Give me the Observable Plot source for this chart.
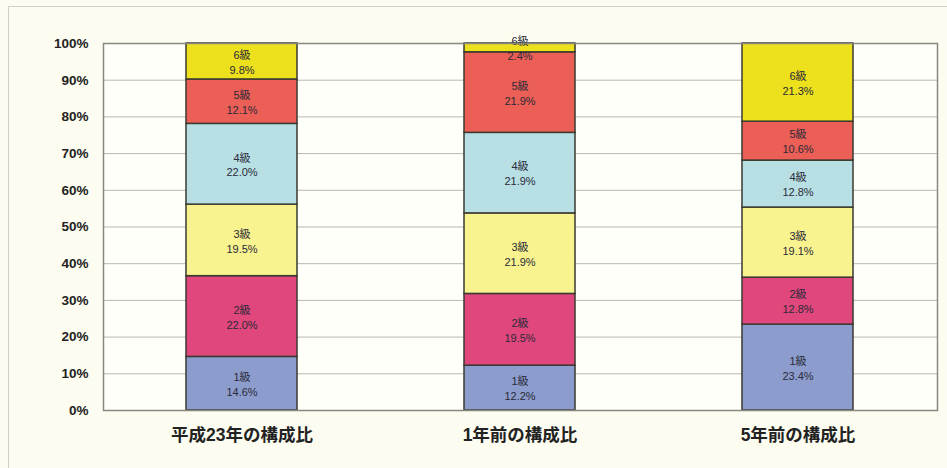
<!DOCTYPE html>
<html>
<head>
<meta charset="utf-8">
<script src="https://cdn.jsdelivr.net/npm/d3@7"></script>
<script src="https://cdn.jsdelivr.net/npm/@observablehq/plot@0.6"></script>
<style>
  html, body { margin: 0; padding: 0; background: #fcfcf0; }
  #wrap { position: relative; width: 947px; height: 468px; overflow: hidden; }
  #border { position: absolute; left: 8px; top: 6px; width: 960px; height: 480px; border-left: 1.5px solid #d0d0c4; border-top: 1.5px solid #d0d0c4; pointer-events: none; }
  #chart { position: absolute; left: 0; top: 0; width: 947px; }
  #chart svg { max-width: none; }
</style>
</head>
<body>
<div id="wrap"><div id="chart"></div><div id="border"></div></div>
<script>
const categories = ["平成23年の構成比", "1年前の構成比", "5年前の構成比"];
const grades = ["1級", "2級", "3級", "4級", "5級", "6級"];
const seriesH23 = [14.6, 22.0, 19.5, 22.0, 12.1, 9.8];
const series1y  = [12.2, 19.5, 21.9, 21.9, 21.9, 2.4];
const series5y  = [23.4, 12.8, 19.1, 12.8, 10.6, 21.3];
const colors = ["#8c9dcd", "#e0477c", "#f8f38f", "#b8e0e4", "#ec5f56", "#ede01c"];
const yTicks = [0, 0.1, 0.2, 0.3, 0.4, 0.5, 0.6, 0.7, 0.8, 0.9, 1.0];

const allSeries = [seriesH23, series1y, series5y];
const data = [];
categories.forEach((c, i) => {
  grades.forEach((g, j) => data.push({cat: c, grade: g, value: allSeries[i][j]}));
});

const font = "'Liberation Sans', 'Noto Sans CJK JP', Arial, sans-serif";

const chart = Plot.plot({
  width: 947,
  height: 468,
  marginLeft: 103,
  marginRight: 10,
  marginTop: 43,
  marginBottom: 58,
  style: {background: "transparent", fontFamily: font},
  x: {domain: categories, paddingInner: 0.6, paddingOuter: 0.3, label: null},
  y: {domain: [0, 1], label: null},
  color: {domain: grades, range: colors},
  marks: [
    Plot.frame({fill: "#fffffa", stroke: null}),
    Plot.ruleY(yTicks.slice(1, -1), {stroke: "#b8b8b0", strokeWidth: 1}),
    Plot.barY(data, Plot.stackY({
      x: "cat", y: "value", z: "grade", fill: "grade", offset: "normalize",
      stroke: "#3a3a30", strokeWidth: 1.5
    })),
    Plot.text(data, Plot.stackY({
      x: "cat", y: "value", z: "grade", offset: "normalize",
      text: d => `${d.grade}\n${d.value.toFixed(1)}%`,
      fontSize: 11, lineHeight: 1.35, fill: "#2a2a38", fontFamily: font
    })),
    Plot.frame({stroke: "#888880", strokeWidth: 1.5}),
    Plot.axisY({ticks: yTicks, tickSize: 0, tickPadding: 15, tickFormat: d3.format(".0%"),
      fontSize: 13.5, fontWeight: "bold", fill: "#222"}),
    Plot.axisX({tickSize: 0, tickPadding: 18, fontSize: 17.5, fontWeight: "bold", fill: "#222"})
  ]
});
document.getElementById("chart").appendChild(chart);
</script>
</body>
</html>
